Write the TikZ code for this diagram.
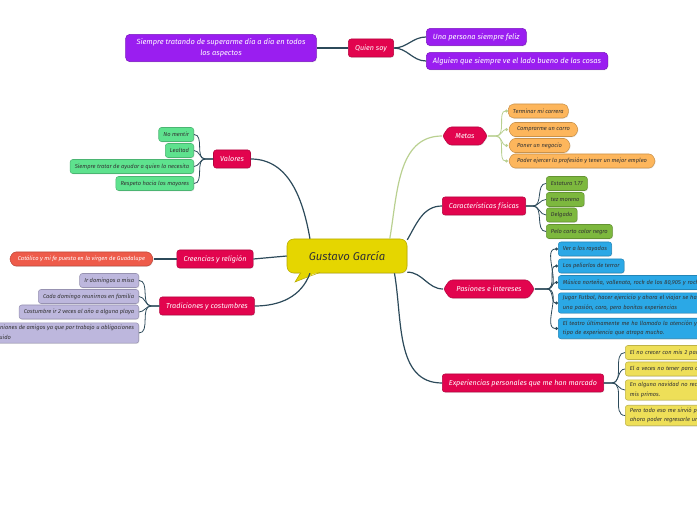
\documentclass[tikz,border=0pt]{standalone}
\usepackage{fontspec}
\setsansfont{Fira Sans}
\usepackage{tikz}
\usetikzlibrary{arrows.meta,positioning,calc,shapes.symbols,shadows}
\definecolor{topicred}{HTML}{E2044E}
\definecolor{purp}{HTML}{9A1EF0}
\definecolor{centeryel}{HTML}{E5D600}
\definecolor{metaorg}{HTML}{FDB65C}
\definecolor{fisgreen}{HTML}{7DB83E}
\definecolor{pasblue}{HTML}{2BA8E6}
\definecolor{expyel}{HTML}{EEDF58}
\definecolor{valgreen}{HTML}{5EE28E}
\definecolor{crecoral}{HTML}{EE5B4A}
\definecolor{tradlav}{HTML}{BDB7DD}
\definecolor{linkdark}{HTML}{2C4A5A}
\definecolor{linklight}{HTML}{B9D090}
\definecolor{leaftext}{HTML}{333333}

\begin{document}
\begin{tikzpicture}[x=0.75pt,y=-0.75pt,
  shade/.style={drop shadow={opacity=0.18,shadow xshift=0.5pt,shadow yshift=-0.6pt}},
  topic/.style={draw=topicred!80!black, fill=topicred, rounded corners=2pt, text=white,
    font=\sffamily\itshape\fontsize{5.4}{6.5}\selectfont,
    minimum height=13.5pt, inner xsep=5pt, shade},
  hextopic/.style={topic, signal, signal to=west and east, signal pointer angle=110},
  leaf/.style={draw=#1!80!black, fill=#1, rounded corners=2pt, text=leaftext, align=left,
    font=\sffamily\itshape\fontsize{4.3}{7}\selectfont,
    minimum height=10.5pt, inner xsep=3.5pt, inner ysep=2pt, shade},
  hexleaf/.style={leaf=#1, signal, signal to=west and east, signal pointer angle=120},
  purpleaf/.style={draw=purp!80!black, fill=purp, rounded corners=3pt, text=white,
    font=\sffamily\itshape\fontsize{5.6}{8}\selectfont,
    minimum height=13pt, inner xsep=5pt, shade},
  link/.style={draw=linkdark, line width=0.9pt},
  softlink/.style={draw=linklight, line width=0.9pt},
  twig/.style={draw=linkdark, line width=0.6pt},
  softtwig/.style={draw=linklight, line width=0.6pt},
  dotend/.style={-{Circle[length=2.2pt]}}
]
  \useasboundingbox (0,0) rectangle (697,520);
  \clip (0,0) rectangle (697,520);

  % central topic
  \node[draw=centeryel!80!black, fill=centeryel, rounded corners=5pt,
    minimum width=90pt, minimum height=25.5pt, text=leaftext,
    font=\sffamily\itshape\fontsize{8.5}{10}\selectfont, shade] (ctr) at (347,256) {Gustavo García};
  \fill[centeryel] (301,271) -- (295,282) .. controls (305,278) .. (320,271) -- cycle;
  \draw[centeryel!80!black, line width=0.4pt] (301,272.5) -- (295,282) .. controls (305,278) .. (320,272.5);

  % main topics
  \node[topic] (quien) at (371,48) {Quien soy};
  \node[hextopic] (metas) at (465,136) {Metas};
  \node[topic] (fisicas) at (484,206) {Características físicas};
  \node[hextopic] (pasiones) at (489,289) {Pasiones e intereses};
  \node[topic] (exper) at (523,383) {Experiencias personales que me han marcado};
  \node[topic] (valores) at (232,159) {Valores};
  \node[topic] (creencias) at (215,259) {Creencias y religión};
  \node[topic] (tradic) at (207,306) {Tradiciones y costumbres};

  % quien soy
  \node[purpleaf, align=center, minimum width=143pt] (superar) at (221,48)
    {Siempre tratando de superarme día a día en todos\\los aspectos};
  \node[purpleaf, anchor=west] (feliz) at (426,37) {Una persona siempre feliz};
  \node[purpleaf, anchor=west] (bueno) at (426,61) {Alguien que siempre ve el lado bueno de las cosas};

  % metas
  \node[leaf=metaorg, anchor=west, rounded corners=4pt] (m1) at (508,111) {Terminar mi carrera};
  \node[hexleaf=metaorg, anchor=west] (m2) at (508,129.5) {Comprarme un carro};
  \node[hexleaf=metaorg, anchor=west] (m3) at (508,145.5) {Poner un negocio};
  \node[hexleaf=metaorg, anchor=west] (m4) at (508,161) {Poder ejercer la profesión y tener un mejor empleo};

  % caracteristicas
  \node[leaf=fisgreen, anchor=west] (f1) at (546,183.5) {Estatura 1.77};
  \node[leaf=fisgreen, anchor=west] (f2) at (546,199.5) {tez moreno};
  \node[leaf=fisgreen, anchor=west] (f3) at (546,215) {Delgado};
  \node[leaf=fisgreen, anchor=west] (f4) at (546,231.5) {Pelo corto color negro};

  % pasiones
  \node[leaf=pasblue, anchor=west] (p1) at (558,249) {Ver a los rayados};
  \node[leaf=pasblue, anchor=west] (p2) at (558,266) {Los peliarlos de terror};
  \node[leaf=pasblue, anchor=west, text width=150pt] (p3) at (558,282.5)
    {Música norteña, vallenato, rock de los 80,90S y rock};
  \node[leaf=pasblue, anchor=west, text width=150pt] (p4) at (558,303)
    {Jugar Futbol, hacer ejercicio y ahora el viajar se ha convertido en\\una pasión, caro, pero bonitas experiencias};
  \node[leaf=pasblue, anchor=west, text width=150pt] (p5) at (558,328.5)
    {El teatro últimamente me ha llamado la atención y es\\tipo de experiencia que atrapa mucho.};

  % experiencias
  \node[leaf=expyel, anchor=west, text width=75pt] (e1) at (625,352.5) {El no crecer con mis 2 padres};
  \node[leaf=expyel, anchor=west, text width=75pt] (e2) at (625,369) {El a veces no tener para comer};
  \node[leaf=expyel, anchor=west, text width=75pt] (e3) at (625,390) {En alguna navidad no recibir\\mis primos.};
  \node[leaf=expyel, anchor=west, text width=75pt] (e4) at (625,415.5) {Pero todo eso me sirvió para\\ahora poder regresarle un};

  % valores
  \node[leaf=valgreen, anchor=east] (v1) at (194,134.5) {No mentir};
  \node[leaf=valgreen, anchor=east] (v2) at (194,150.5) {Lealtad};
  \node[leaf=valgreen, anchor=east] (v3) at (194,166.5) {Siempre tratar de ayudar a quien lo necesita};
  \node[leaf=valgreen, anchor=east] (v4) at (194,183.5) {Respeto hacia los mayores};

  % creencias
  \node[hexleaf=crecoral, anchor=east, text=white] (fe) at (154,259)
    {Católico y mi fe puesta en la virgen de Guadalupe};

  % tradiciones
  \node[leaf=tradlav, anchor=east] (t1) at (139,280.5) {Ir domingos a misa};
  \node[leaf=tradlav, anchor=east] (t2) at (139,296.5) {Cada domingo reunirnos en familia};
  \node[leaf=tradlav, anchor=east] (t3) at (139,312) {Costumbre ir 2 veces al año a alguna playa};
  \node[leaf=tradlav, anchor=east] (t4) at (139,333)
    {Reuniones de amigos ya que por trabajo u obligaciones\\seguido};

  % links from the centre
  \draw[link] (ctr.155) to[out=100,in=0] (valores.east);
  \draw[link] (ctr.west) -- (creencias.east);
  \draw[link] (ctr.205) to[out=250,in=0] (tradic.east);
  \draw[softlink] (ctr.22) to[out=80,in=180] (metas.west);
  \draw[link] (ctr.15) to[out=60,in=180] (fisicas.west);
  \draw[link] (ctr.-15) to[out=0,in=180] (pasiones.west);
  \draw[link] (ctr.-20) to[out=-80,in=180] (exper.west);

  % twigs
  \draw[link] (quien.west) -- (superar.east);
  \foreach \c in {feliz,bueno}
    \draw[link] (quien.east) to[out=0,in=180] (\c.west);
  \foreach \c in {m1,m2,m3,m4}
    \draw[softtwig, dotend] (metas.east) -- ++(8,0) to[out=0,in=180] (\c.west);
  \foreach \c in {f1,f2,f3,f4}
    \draw[twig] (fisicas.east) -- ++(7,0) to[out=0,in=180] (\c.west);
  \foreach \c in {p1,p2,p3,p4,p5}
    \draw[twig, dotend] (pasiones.east) -- ++(12,0) to[out=0,in=180] (\c.west);
  \foreach \c in {e1,e2,e3,e4}
    \draw[twig] (exper.east) -- ++(8,0) to[out=0,in=180] (\c.west);
  \foreach \c in {v1,v2,v3,v4}
    \draw[twig] (valores.west) -- ++(-8,0) to[out=180,in=0] (\c.east);
  \draw[link] (creencias.west) -- (fe.east);
  \foreach \c in {t1,t2,t3,t4}
    \draw[twig] (tradic.west) -- ++(-8,0) to[out=180,in=0] (\c.east);
\end{tikzpicture}
\end{document}
